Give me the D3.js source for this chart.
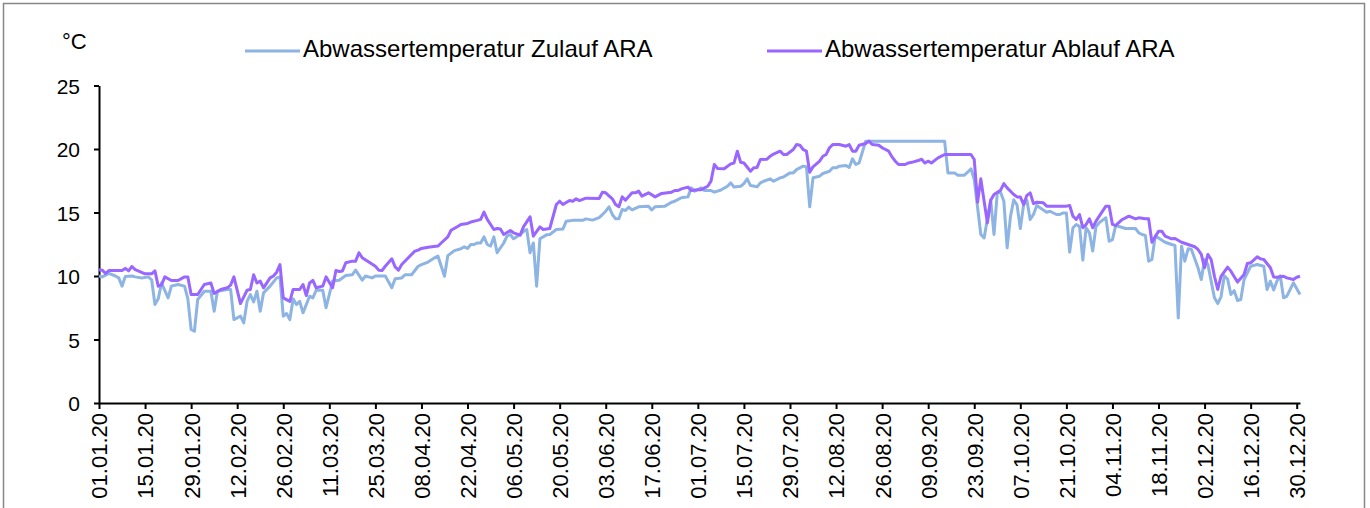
<!DOCTYPE html>
<html lang="de">
<head>
<meta charset="utf-8">
<title>Abwassertemperatur ARA 2020</title>
<script src="https://d3js.org/d3.v7.min.js"></script>
<style>
  body { margin: 0; background: #fff; }
  svg text { font-family: "Liberation Sans", Arial, sans-serif; fill: #000; }
</style>
</head>
<body>
<script>
// day index = days since 01.01.2020, values in °C
const zulaufDay = [0,1,3,5,6,7,8,10,11,13,15,16,17,18,19,21,22,24,26,27,28,29,30,32,34,35,36,39,40,41,43,44,45,46,47,48,49,50,52,54,55,56,57,58,59,60,61,62,64,65,66,68,69,71,73,75,77,78,80,81,83,84,87,89,90,92,93,95,97,98,100,102,103,105,106,108,110,111,112,113,114,115,116,117,118,119,120,121,123,124,125,126,128,129,130,131,132,133,134,136,137,139,141,142,144,147,148,150,152,153,154,155,156,157,158,159,160,161,162,164,167,168,169,172,174,175,177,179,180,181,182,183,184,186,187,189,191,192,193,195,196,197,198,200,201,202,204,205,207,208,210,211,212,214,215,216,217,219,220,222,223,224,225,227,228,229,230,231,233,257,258,260,261,263,264,265,266,268,269,271,272,273,274,275,276,277,278,279,280,281,282,283,284,285,286,288,289,291,292,293,294,295,296,297,298,299,300,301,302,303,304,306,307,308,309,310,312,315,316,317,318,319,320,321,322,324,326,327,328,329,330,331,332,334,335,336,337,339,340,341,342,343,344,345,346,347,348,350,352,354,355,356,357,358,359,360,361,363,365];
const zulaufValues = [10.0,9.93,10.2,10.0,9.85,9.2,9.97,10.0,9.93,9.85,9.93,9.7,7.75,8.2,9.45,8.28,9.2,9.33,9.2,8.2,5.79,5.65,8.15,8.8,8.8,7.23,8.8,8.94,8.94,6.57,6.84,6.31,8.0,8.54,7.96,8.8,7.23,8.67,9.2,9.85,9.93,6.84,7.05,6.57,8.2,7.75,8.0,7.1,8.41,8.28,8.88,8.88,7.5,9.6,9.67,10.04,10.1,10.46,9.67,10.0,9.85,10.0,10.0,9.07,9.78,9.85,10.1,10.1,10.77,10.9,11.1,11.43,11.57,9.98,11.6,12.0,12.14,12.3,12.17,12.48,12.48,12.6,12.6,13.08,12.48,12.36,13.08,11.83,12.6,13.14,13.27,12.93,13.27,13.5,13.66,11.83,12.6,9.2,12.93,13.24,13.27,13.66,13.7,14.32,14.38,14.38,14.5,14.4,14.6,14.84,15.1,15.45,14.84,14.5,14.5,15.24,15.16,15.42,15.2,15.45,15.5,15.2,15.45,15.5,15.81,15.89,16.16,16.23,16.94,16.68,16.8,16.94,16.73,16.73,16.6,16.77,17.07,17.33,17.0,17.07,17.28,17.65,17.12,17.02,17.33,17.46,17.65,17.46,17.73,17.8,18.12,18.12,18.38,18.65,18.6,15.45,17.73,17.86,18.07,18.25,18.52,18.52,18.65,18.7,18.55,19.23,18.78,18.9,20.62,20.62,18.12,18.12,17.94,17.94,18.17,18.44,17.6,13.27,13.0,16.0,13.27,16.55,16.6,15.89,12.22,14.66,16.0,15.6,13.74,15.6,15.97,14.45,14.84,15.55,15.37,15.02,15.1,14.84,14.84,14.97,14.97,11.88,13.8,14.06,13.9,11.25,13.8,13.4,11.96,13.9,14.2,14.58,12.74,12.87,13.98,13.9,13.74,13.74,13.4,13.27,13.2,11.17,11.3,13.14,13.0,12.66,12.48,12.4,6.7,12.35,11.17,12.14,12.09,10.65,9.72,11.3,10.9,8.28,7.83,8.36,10.02,9.75,8.54,8.85,8.07,8.15,9.72,10.77,10.9,10.77,8.94,9.6,8.9,9.6,10.02,8.28,8.41,9.46,8.54];

const ablaufDay = [0,1,2,3,7,8,9,10,11,14,16,17,18,19,20,22,24,26,27,28,30,32,34,35,37,39,40,41,43,44,45,46,47,48,49,50,52,53,54,55,56,58,59,61,62,63,64,65,66,68,69,71,72,73,74,75,77,78,79,80,82,84,85,86,87,89,90,91,92,94,96,97,98,100,103,104,106,107,109,110,112,113,115,116,117,118,120,121,122,123,125,126,128,129,131,132,134,135,137,139,140,141,143,144,145,146,148,152,153,154,156,157,158,159,160,162,163,164,165,167,169,171,174,175,176,177,179,180,182,183,185,186,187,188,190,192,193,194,195,196,198,199,200,201,203,204,205,207,208,209,211,212,213,214,215,216,217,219,220,221,222,223,225,227,228,229,230,231,233,234,235,237,238,240,241,242,243,245,246,247,249,250,251,252,253,254,255,257,265,266,267,268,269,270,271,272,274,275,276,278,279,280,281,282,283,284,285,287,288,291,294,295,296,297,298,299,300,301,302,303,304,306,307,308,309,311,312,313,315,316,318,319,320,322,323,324,326,327,329,331,333,334,335,336,337,338,339,340,341,343,344,346,348,349,350,352,353,354,356,357,358,360,361,363,364,365];
const ablaufValues = [10.5,10.46,10.2,10.43,10.43,10.6,10.4,10.75,10.5,10.17,10.17,10.4,9.2,9.3,9.93,9.65,9.65,9.93,9.93,8.54,8.54,9.33,9.45,8.62,8.94,9.07,9.28,9.93,7.83,8.36,8.88,8.94,10.1,9.45,9.6,9.07,9.85,10.0,10.3,10.9,8.28,8.0,8.94,8.94,9.33,8.46,9.45,9.65,9.07,9.2,9.93,9.07,10.43,10.35,10.4,11.04,11.17,11.17,11.83,11.44,11.1,10.77,10.46,10.43,10.77,11.35,10.72,10.46,10.9,11.44,11.96,12.04,12.17,12.27,12.36,12.6,13.08,13.6,13.9,14.06,14.14,14.25,14.38,14.46,15.03,14.46,13.66,13.74,13.7,13.27,13.58,13.4,13.22,13.87,14.66,13.14,13.87,13.66,13.74,15.63,15.89,15.63,15.94,15.89,16.08,15.94,16.13,16.1,16.6,16.55,16.08,15.63,15.45,16.23,15.97,16.55,16.55,16.68,16.29,16.55,16.23,16.5,16.6,16.73,16.73,16.86,17.0,16.73,16.8,16.8,17.07,17.47,18.78,18.46,18.45,18.83,18.9,19.83,18.96,18.9,18.25,18.52,18.55,19.17,19.2,19.43,19.6,19.83,19.57,19.57,19.96,20.35,20.3,19.96,19.83,18.17,18.6,19.04,19.43,19.57,20.1,20.35,20.35,20.22,20.35,19.83,19.83,20.3,20.43,20.62,20.35,20.3,20.1,19.83,19.38,19.04,18.78,18.78,18.9,18.95,19.09,19.2,18.9,19.04,18.9,19.1,19.3,19.57,19.57,19.17,15.81,17.65,15.89,14.19,15.97,16.42,16.76,17.28,16.94,16.42,16.23,16.23,15.63,16.35,16.55,15.7,15.81,15.76,15.5,15.5,15.5,15.55,14.71,14.45,14.84,13.8,14.06,14.5,13.8,14.32,14.71,15.5,15.5,14.06,13.98,14.45,14.58,14.71,14.5,14.58,14.5,14.5,12.66,13.53,13.53,13.14,12.93,12.95,12.66,12.48,12.3,12.09,11.7,10.65,11.7,11.3,9.98,8.94,9.98,10.7,10.38,9.52,10.12,10.98,11.04,11.51,11.35,11.3,10.65,9.93,9.9,9.98,9.85,9.72,9.9,9.98];

const tickLabels = ["01.01.20","15.01.20","29.01.20","12.02.20","26.02.20","11.03.20","25.03.20","08.04.20","22.04.20","06.05.20","20.05.20","03.06.20","17.06.20","01.07.20","15.07.20","29.07.20","12.08.20","26.08.20","09.09.20","23.09.20","07.10.20","21.10.20","04.11.20","18.11.20","02.12.20","16.12.20","30.12.20"];
const yTicks = [0, 5, 10, 15, 20, 25];
const seriesNames = ["Abwassertemperatur Zulauf ARA", "Abwassertemperatur Ablauf ARA"];
const seriesColors = ["#8db4e2", "#9966ff"];

const width = 1370, height = 508;
const start = new Date(2020, 0, 1);
const toDate = d => d3.timeDay.offset(start, d);
const parseTick = d3.timeParse("%d.%m.%y");

const svg = d3.select("body").append("svg")
  .attr("width", width)
  .attr("height", height);

svg.append("rect").attr("width", width).attr("height", height).attr("fill", "#fff");
// chart frame
svg.append("rect")
  .attr("x", 3.5).attr("y", 3.5)
  .attr("width", 1361).attr("height", 520)
  .attr("fill", "none").attr("stroke", "#868686").attr("stroke-width", 1.5);

const x = d3.scaleTime()
  .domain([start, new Date(2020, 11, 31)])
  .range([99, 1300]);
const y = d3.scaleLinear().domain([0, 25]).range([403, 85.5]);

// y axis
const yAxis = svg.append("g")
  .attr("transform", "translate(99,0)")
  .call(d3.axisLeft(y).tickValues(yTicks).tickSize(5).tickSizeOuter(0).tickPadding(14));
yAxis.selectAll("text").style("font-size", "21px").attr("dy", "0.36em");

// x axis
const xAxis = svg.append("g")
  .attr("transform", "translate(0,403)")
  .call(d3.axisBottom(x)
    .tickValues(tickLabels.map(parseTick))
    .tickFormat(d3.timeFormat("%d.%m.%y"))
    .tickSize(6).tickSizeOuter(0));
xAxis.selectAll("text")
  .style("font-size", "22px")
  .attr("transform", "rotate(-90)")
  .attr("x", -10).attr("y", 0).attr("dy", "0.36em")
  .attr("text-anchor", "end");

svg.selectAll(".domain, .tick line").attr("stroke", "#000").attr("stroke-width", 2);

svg.append("text").attr("x", 62).attr("y", 49).style("font-size", "22px").text("°C");

const line = d3.line()
  .x(d => x(toDate(d[0])))
  .y(d => y(d[1]));

const series = [
  d3.zip(zulaufDay, zulaufValues),
  d3.zip(ablaufDay, ablaufValues)
];

svg.selectAll("path.series")
  .data(series)
  .join("path")
  .attr("class", "series")
  .attr("d", line)
  .attr("fill", "none")
  .attr("stroke", (d, i) => seriesColors[i])
  .attr("stroke-width", 3)
  .attr("stroke-linejoin", "round");

// legend
const legendX = [245, 767];
const legend = svg.selectAll("g.legend")
  .data(seriesNames)
  .join("g")
  .attr("class", "legend")
  .attr("transform", (d, i) => `translate(${legendX[i]},51)`);
legend.append("line")
  .attr("x1", 0).attr("x2", 55)
  .attr("stroke", (d, i) => seriesColors[i])
  .attr("stroke-width", 3);
legend.append("text")
  .attr("x", 58).attr("y", 6)
  .style("font-size", "24px")
  .text(d => d);
</script>
</body>
</html>
